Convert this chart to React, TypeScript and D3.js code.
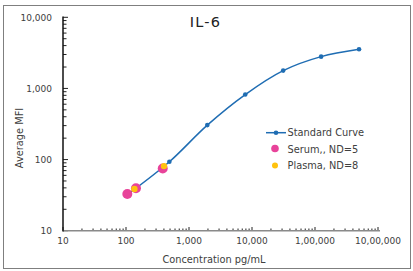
import React, { useEffect, useRef } from "react";
import * as d3 from "d3";

const W = 413;
const H = 271;

// standard curve (4-fold dilutions)
const stdConc = [488, 1953, 7813, 31250, 125000, 500000];
const stdMfi = [93, 305, 820, 1780, 2800, 3550];
// fitted line extends a little below the lowest standard
const fitConc = [120, 488, 1953, 7813, 31250, 125000, 500000];
const fitMfi = [35, 93, 305, 820, 1780, 2800, 3550];

const serumConc = [105, 144, 383];
const serumMfi = [32.8, 39.5, 75];
const plasmaConc = [136, 401];
const plasmaMfi = [38.6, 81];

const xTicks = [10, 100, 1000, 10000, 100000, 1000000];
const xTickLabels = ["10", "100", "1,000", "10,000", "1,00,000", "10,00,000"];
const yTicks = [10, 100, 1000, 10000];
const yTickLabels = ["10", "100", "1,000", "10,000"];

const legendLabels = ["Standard Curve", "Serum,, ND=5", "Plasma, ND=8"];

const BLUE = "#1f6db3";
const PINK = "#e8439a";
const YELLOW = "#ffc20e";
const TEXT = "#404040";
const FONT = "DejaVu Sans, Verdana, sans-serif";

export default function App() {
  const ref = useRef<SVGSVGElement | null>(null);

  useEffect(() => {
    if (ref.current == null) return;
    const svg = d3.select(ref.current);
    svg.selectAll("*").remove();

    const x = d3.scaleLog().domain([10, 1000000]).range([63, 378]);
    const y = d3.scaleLog().domain([10, 10000]).range([230.7, 17.3]);

    // frame
    svg.append("rect")
      .attr("x", 3.5).attr("y", 5.5)
      .attr("width", 407).attr("height", 263)
      .attr("fill", "white").attr("stroke", "#7f7f7f").attr("stroke-width", 1);

    // minor/major ticks on y axis (inside)
    const yAll: number[] = [];
    for (let d = 10; d < 10000; d *= 10) for (let k = 1; k < 10; k++) yAll.push(d * k);
    yAll.push(10000);
    svg.append("g").selectAll("line").data(yAll).enter().append("line")
      .attr("x1", 63).attr("x2", d => (yTicks.includes(d) ? 68 : 66.5))
      .attr("y1", d => y(d)).attr("y2", d => y(d))
      .attr("stroke", "#222").attr("stroke-width", 1);

    const xAll: number[] = [];
    for (let d = 10; d < 1000000; d *= 10) for (let k = 1; k < 10; k++) xAll.push(d * k);
    xAll.push(1000000);
    svg.append("g").selectAll("line").data(xAll).enter().append("line")
      .attr("x1", d => x(d)).attr("x2", d => x(d))
      .attr("y1", 230.7).attr("y2", d => (xTicks.includes(d) ? 227 : 228.5))
      .attr("stroke", "#222").attr("stroke-width", 1);

    // axis lines
    svg.append("line").attr("x1", 63).attr("x2", 380).attr("y1", 230.7).attr("y2", 230.7)
      .attr("stroke", "#8a8a8a").attr("stroke-width", 1.5);
    svg.append("line").attr("x1", 63).attr("x2", 63).attr("y1", 16.5).attr("y2", 231.4)
      .attr("stroke", "#111").attr("stroke-width", 1.5);

    // tick labels
    svg.append("g").selectAll("text").data(yTicks).enter().append("text")
      .attr("x", 52).attr("y", d => y(d) + 3.2)
      .attr("text-anchor", "end").attr("font-size", 9).attr("font-family", FONT).attr("fill", TEXT)
      .text((d, i) => yTickLabels[i]);
    svg.append("g").selectAll("text").data(xTicks).enter().append("text")
      .attr("x", d => x(d)).attr("y", 244)
      .attr("text-anchor", "middle").attr("font-size", 9).attr("font-family", FONT).attr("fill", TEXT)
      .text((d, i) => xTickLabels[i]);

    // axis titles
    svg.append("text").attr("x", 214).attr("y", 262.5).attr("text-anchor", "middle")
      .attr("font-size", 9.8).attr("font-family", FONT).attr("fill", TEXT).text("Concentration pg/mL");
    svg.append("text").attr("transform", "translate(22.5,138) rotate(-90)").attr("text-anchor", "middle")
      .attr("font-size", 9.8).attr("font-family", FONT).attr("fill", TEXT).text("Average MFI");

    // title
    svg.append("text").attr("x", 205.5).attr("y", 27).attr("text-anchor", "middle")
      .attr("font-size", 14.5).attr("font-family", FONT).attr("fill", "#222")
      .attr("letter-spacing", 1.2).text("IL-6");

    // fitted curve
    const line = d3.line<number>()
      .x(d => x(fitConc[d]))
      .y(d => y(fitMfi[d]))
      .curve(d3.curveCatmullRom.alpha(0.5));
    svg.append("path").datum(d3.range(fitConc.length)).attr("d", line)
      .attr("fill", "none").attr("stroke", BLUE).attr("stroke-width", 1.5);

    svg.append("g").selectAll("circle").data(stdConc).enter().append("circle")
      .attr("cx", d => x(d)).attr("cy", (d, i) => y(stdMfi[i])).attr("r", 2.3).attr("fill", BLUE);

    svg.append("g").selectAll("circle").data(serumConc).enter().append("circle")
      .attr("cx", d => x(d)).attr("cy", (d, i) => y(serumMfi[i])).attr("r", 5).attr("fill", PINK);

    svg.append("g").selectAll("circle").data(plasmaConc).enter().append("circle")
      .attr("cx", d => x(d)).attr("cy", (d, i) => y(plasmaMfi[i])).attr("r", 3.2).attr("fill", YELLOW);

    // legend
    const lg = svg.append("g").attr("font-family", FONT).attr("font-size", 9.8).attr("fill", TEXT);
    lg.append("line").attr("x1", 266).attr("x2", 286).attr("y1", 132.7).attr("y2", 132.7)
      .attr("stroke", BLUE).attr("stroke-width", 1.5);
    lg.append("circle").attr("cx", 276).attr("cy", 132.7).attr("r", 2.3).attr("fill", BLUE);
    lg.append("circle").attr("cx", 275).attr("cy", 148.5).attr("r", 3.8).attr("fill", PINK);
    lg.append("circle").attr("cx", 275).attr("cy", 165.5).attr("r", 3).attr("fill", YELLOW);
    lg.selectAll("text").data(legendLabels).enter().append("text")
      .attr("x", 287.5).attr("y", (d, i) => 136.2 + i * 16.5)
      .text(d => d);
  }, []);

  return (
    <svg ref={ref} width={W} height={H}
      style={{ position: "absolute", left: 0, top: 0, background: "white" }} />
  );
}
